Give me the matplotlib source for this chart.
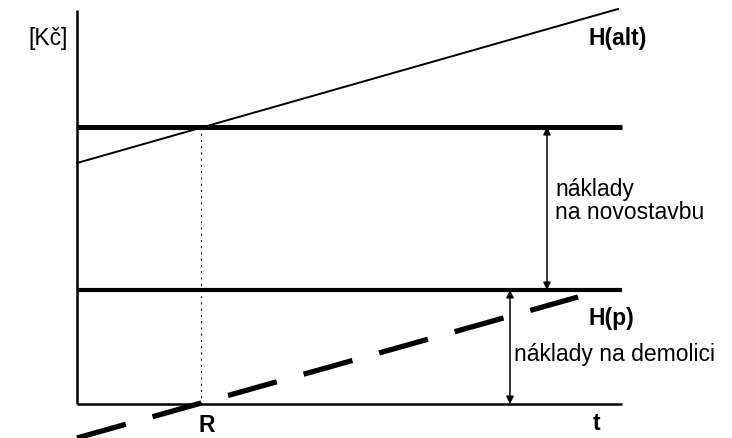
import matplotlib
matplotlib.use("Agg")
import matplotlib.pyplot as plt
import numpy as np

plt.rcParams['font.family'] = ['Liberation Sans', 'DejaVu Sans']
plt.rcParams['lines.scale_dashes'] = False

# Data (arbitrary cost units vs. time)
t_range = [0, 545]
axis_top = 394
h_alt_t = [0, 541]
h_alt_v = [241, 395]
new_build_level = 277
demolition_level = 114
h_p_t = [0, 501]
h_p_v = [-34, 107]
R_t = 124
arrow_new_t = 470
arrow_demo_t = 433

fig = plt.figure(figsize=(7.32, 4.38), dpi=100)
ax = fig.add_axes([0, 0, 1, 1])
ax.set_xlim(-77, 655)
ax.set_ylim(-34, 404)
ax.axis('off')

# axes
ax.plot([0, 0], [0, axis_top], color='black', lw=1.8, solid_capstyle='butt')
ax.plot(t_range, [0, 0], color='black', lw=1.8, solid_capstyle='butt')

# H(alt)
ax.plot(h_alt_t, h_alt_v, color='black', lw=1.4)
# horizontal levels
ax.plot(t_range, [new_build_level] * 2, color='black', lw=3.6, solid_capstyle='butt')
ax.plot(t_range, [demolition_level] * 2, color='black', lw=3.0, solid_capstyle='butt')
# H(p) dashed
ax.plot(h_p_t, h_p_v, color='black', lw=3.8, dashes=(36.5, 20), dash_capstyle='butt')
# dotted vertical at R
ax.plot([R_t, R_t], [0, new_build_level], color='black', lw=0.8, ls=(0, (1.5, 3)))

# arrows
ap = dict(arrowstyle='<|-|>', color='black', lw=1.1, mutation_scale=11,
          shrinkA=0, shrinkB=0)
ax.annotate('', xy=(arrow_new_t, new_build_level), xytext=(arrow_new_t, demolition_level),
            arrowprops=ap)
ax.annotate('', xy=(arrow_demo_t, demolition_level), xytext=(arrow_demo_t, 0),
            arrowprops=ap)

# texts
fs = 16.5
ax.text(-9, 366, '[Kč]', ha='right', va='center', fontsize=fs)
ax.text(511, 366, 'H(alt)', ha='left', va='center', fontsize=fs, fontweight='bold')
ax.text(478, 203, 'náklady\nna novostavbu', ha='left', va='center', fontsize=fs,
        linespacing=1.0)
ax.text(511, 86, 'H(p)', ha='left', va='center', fontsize=fs, fontweight='bold')
ax.text(437, 49, 'náklady na demolici', ha='left', va='center', fontsize=fs)
ax.text(R_t + 6, -21, 'R', ha='center', va='center', fontsize=fs, fontweight='bold')
ax.text(520, -20, 't', ha='center', va='center', fontsize=fs, fontweight='bold')

fig.savefig('out.png', dpi=100)
